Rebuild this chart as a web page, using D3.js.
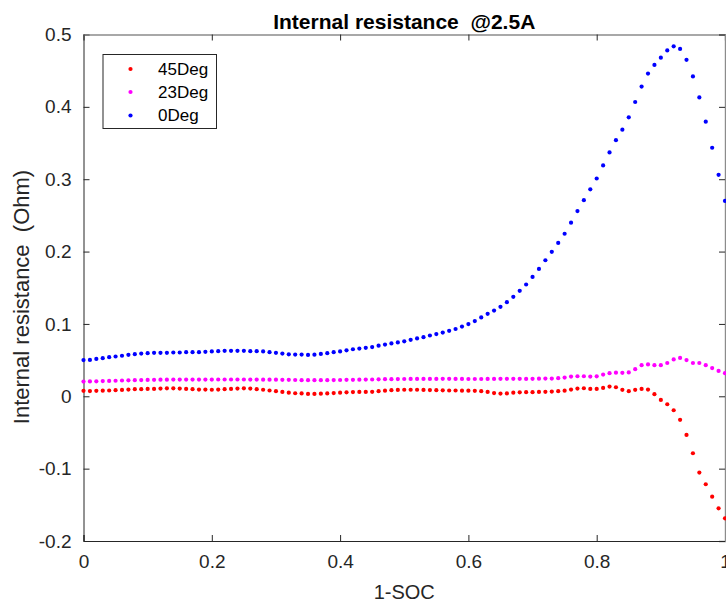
<!DOCTYPE html>
<html>
<head>
<meta charset="utf-8">
<script src="https://cdn.jsdelivr.net/npm/d3@7"></script>
<style>
  html, body { margin: 0; padding: 0; background: #fff; }
  svg { display: block; font-family: "Liberation Sans", Arial, Helvetica, sans-serif; }
  .keep-space { white-space: pre; }
</style>
</head>
<body>
<svg id="chart" width="726" height="607"></svg>
<script>
// Depth of discharge (1-SOC) sample points
const soc = [
  0.00,0.01,0.02,0.03,0.04,0.05,0.06,0.07,0.08,0.09,
  0.10,0.11,0.12,0.13,0.14,0.15,0.16,0.17,0.18,0.19,
  0.20,0.21,0.22,0.23,0.24,0.25,0.26,0.27,0.28,0.29,
  0.30,0.31,0.32,0.33,0.34,0.35,0.36,0.37,0.38,0.39,
  0.40,0.41,0.42,0.43,0.44,0.45,0.46,0.47,0.48,0.49,
  0.50,0.51,0.52,0.53,0.54,0.55,0.56,0.57,0.58,0.59,
  0.60,0.61,0.62,0.63,0.64,0.65,0.66,0.67,0.68,0.69,
  0.70,0.71,0.72,0.73,0.74,0.75,0.76,0.77,0.78,0.79,
  0.80,0.81,0.82,0.83,0.84,0.85,0.86,0.87,0.88,0.89,
  0.90,0.91,0.92,0.93,0.94,0.95,0.96,0.97,0.98,0.99,
  1.00
];

// Internal resistance (Ohm) at 45 degC
const r45 = [
  0.0075,0.0072,0.0075,0.0078,0.0080,0.0084,0.0088,0.0093,0.0098,0.0098,
  0.0102,0.0102,0.0107,0.0110,0.0110,0.0107,0.0102,0.0098,0.0093,0.0093,
  0.0090,0.0093,0.0098,0.0102,0.0107,0.0110,0.0107,0.0098,0.0090,0.0080,
  0.0070,0.0060,0.0050,0.0042,0.0040,0.0033,0.0033,0.0036,0.0040,0.0045,
  0.0050,0.0055,0.0058,0.0060,0.0060,0.0062,0.0070,0.0078,0.0084,0.0088,
  0.0090,0.0090,0.0090,0.0088,0.0086,0.0084,0.0082,0.0080,0.0080,0.0078,
  0.0078,0.0075,0.0070,0.0060,0.0045,0.0038,0.0040,0.0050,0.0055,0.0057,
  0.0057,0.0060,0.0062,0.0065,0.0070,0.0078,0.0093,0.0107,0.0111,0.0102,
  0.0102,0.0116,0.0134,0.0125,0.0089,0.0070,0.0089,0.0102,0.0093,0.0029,
  -0.0050,-0.0110,-0.0193,-0.0326,-0.0534,-0.0787,-0.1055,-0.1216,-0.1387,-0.1548,
  -0.1686
];

// Internal resistance (Ohm) at 23 degC
const r23 = [
  0.0203,0.0205,0.0207,0.0210,0.0212,0.0215,0.0218,0.0220,0.0222,0.0224,
  0.0226,0.0228,0.0230,0.0230,0.0231,0.0231,0.0231,0.0231,0.0231,0.0231,
  0.0231,0.0232,0.0232,0.0232,0.0232,0.0232,0.0231,0.0231,0.0230,0.0230,
  0.0229,0.0228,0.0227,0.0225,0.0223,0.0222,0.0222,0.0222,0.0223,0.0224,
  0.0225,0.0227,0.0228,0.0230,0.0231,0.0232,0.0234,0.0236,0.0237,0.0238,
  0.0239,0.0240,0.0240,0.0240,0.0240,0.0240,0.0241,0.0241,0.0240,0.0240,
  0.0239,0.0239,0.0239,0.0240,0.0240,0.0241,0.0241,0.0241,0.0241,0.0240,
  0.0241,0.0243,0.0245,0.0245,0.0250,0.0259,0.0273,0.0277,0.0277,0.0273,
  0.0276,0.0300,0.0320,0.0326,0.0324,0.0330,0.0375,0.0430,0.0440,0.0430,
  0.0430,0.0460,0.0510,0.0530,0.0500,0.0460,0.0460,0.0430,0.0390,0.0350,
  0.0320
];

// Internal resistance (Ohm) at 0 degC
const r0 = [
  0.0500,0.0503,0.0517,0.0527,0.0540,0.0550,0.0560,0.0573,0.0582,0.0590,
  0.0596,0.0600,0.0600,0.0600,0.0605,0.0605,0.0610,0.0610,0.0610,0.0614,
  0.0620,0.0624,0.0628,0.0628,0.0628,0.0628,0.0624,0.0624,0.0620,0.0610,
  0.0600,0.0590,0.0580,0.0577,0.0577,0.0572,0.0575,0.0586,0.0596,0.0610,
  0.0620,0.0635,0.0650,0.0660,0.0670,0.0680,0.0700,0.0715,0.0730,0.0745,
  0.0760,0.0780,0.0800,0.0817,0.0840,0.0860,0.0880,0.0905,0.0930,0.0964,
  0.0998,0.1040,0.1090,0.1140,0.1185,0.1237,0.1300,0.1375,0.1458,0.1545,
  0.1650,0.1760,0.1880,0.1997,0.2120,0.2246,0.2400,0.2560,0.2710,0.2860,
  0.3010,0.3190,0.3370,0.3540,0.3685,0.3855,0.4067,0.4280,0.4460,0.4580,
  0.4680,0.4780,0.4837,0.4800,0.4650,0.4420,0.4130,0.3795,0.3435,0.3060,
  0.2700
];

const seriesNames = ["45Deg", "23Deg", "0Deg"];
const seriesColors = ["#ff0000", "#ff00ff", "#0000ff"];
const xTicks = [0, 0.2, 0.4, 0.6, 0.8, 1];
const yTicks = [-0.2, -0.1, 0, 0.1, 0.2, 0.3, 0.4, 0.5];

const titleText = "Internal resistance  @2.5A";
const xLabel = "1-SOC";
const yLabel = "Internal resistance  (Ohm)";

const svg = d3.select("#chart");
const plotLeft = 83.5, plotRight = 725, plotTop = 34.5, plotBottom = 541;

const x = d3.scaleLinear().domain([0, 1]).range([plotLeft, plotRight]);
const y = d3.scaleLinear().domain([-0.2, 0.5]).range([plotBottom, plotTop]);

const axisColor = "#262626";
const tickFont = 19;
const fmt = d => String(+d.toFixed(1));

// Axes: bottom and left with labels, top and right mirrored without labels
const gx = svg.append("g").attr("transform", `translate(0,${plotBottom})`)
  .call(d3.axisBottom(x).tickValues(xTicks).tickSize(-6).tickPadding(14).tickFormat(fmt));
const gy = svg.append("g").attr("transform", `translate(${plotLeft},0)`)
  .call(d3.axisLeft(y).tickValues(yTicks).tickSize(-6).tickPadding(12).tickFormat(fmt));
const gxt = svg.append("g").attr("transform", `translate(0,${plotTop})`)
  .call(d3.axisTop(x).tickValues(xTicks).tickSize(-6).tickFormat(""));
const gyr = svg.append("g").attr("transform", `translate(${plotRight},0)`)
  .call(d3.axisRight(y).tickValues(yTicks).tickSize(-6).tickFormat(""));

[gx, gy, gxt, gyr].forEach(g => {
  g.select(".domain").attr("stroke", axisColor).attr("stroke-width", 1);
  g.selectAll(".tick line").attr("stroke", axisColor);
  g.selectAll(".tick text").attr("fill", "#262626")
    .style("font-size", tickFont + "px")
    .style("font-family", "'Liberation Sans', Arial, sans-serif");
});
[gxt, gyr].forEach(g => g.select(".domain").attr("stroke", "#8c8c8c").attr("stroke-width", 1.4));

// Dotted series
const series = [r45, r23, r0];
series.forEach((vals, k) => {
  svg.append("g").selectAll("circle")
    .data(vals)
    .join("circle")
    .attr("cx", (d, i) => x(soc[i]))
    .attr("cy", d => y(d))
    .attr("r", 2.1)
    .attr("fill", seriesColors[k]);
});

// Title
svg.append("text")
  .attr("class", "keep-space")
  .attr("x", (plotLeft + plotRight) / 2)
  .attr("y", 29)
  .attr("text-anchor", "middle")
  .style("font-size", "21px")
  .style("font-weight", "bold")
  .attr("fill", "#000")
  .text(titleText);

// Axis labels
svg.append("text")
  .attr("x", (plotLeft + plotRight) / 2)
  .attr("y", 599)
  .attr("text-anchor", "middle")
  .style("font-size", "20px")
  .attr("fill", "#262626")
  .text(xLabel);

svg.append("text")
  .attr("class", "keep-space")
  .attr("transform", `translate(29,297) rotate(-90)`)
  .attr("text-anchor", "middle")
  .style("font-size", "22px")
  .attr("fill", "#262626")
  .text(yLabel);

// Legend
const legend = svg.append("g");
legend.append("rect")
  .attr("x", 103).attr("y", 54.5)
  .attr("width", 113.5).attr("height", 74)
  .attr("fill", "#fff")
  .attr("stroke", "#262626").attr("stroke-width", 1);
const rowY = [69, 92, 115.5];
seriesNames.forEach((name, k) => {
  legend.append("circle")
    .attr("cx", 130.5).attr("cy", rowY[k]).attr("r", 2.1)
    .attr("fill", seriesColors[k]);
  legend.append("text")
    .attr("x", 158).attr("y", rowY[k])
    .attr("dy", "0.35em")
    .style("font-size", "17px")
    .attr("fill", "#000")
    .text(name);
});
</script>
</body>
</html>
